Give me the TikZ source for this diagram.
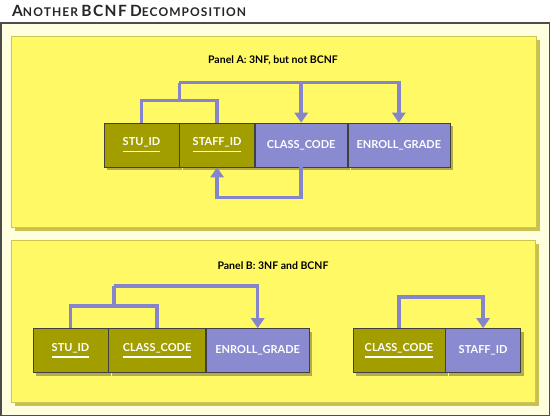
\documentclass[tikz,border=0pt]{standalone}
\usepackage{fontspec}
\setmainfont{Lato}
\usetikzlibrary{positioning,arrows.meta,shadows,calc}

\definecolor{cream}{HTML}{FFFFE0}
\definecolor{panelyellow}{HTML}{FFF966}
\definecolor{panelshade}{HTML}{C9C050}
\definecolor{keyolive}{HTML}{A39E00}
\definecolor{attrblue}{HTML}{8A8AD0}
\definecolor{fdblue}{HTML}{8585CC}

% key attribute: text with a thick underline
\newcommand{\keyul}[1]{\setbox0\hbox{#1}\vtop{\copy0\kern3pt\hrule height 1.6pt width\wd0}}
\newcommand{\tsc}[2]{{\fontsize{15.5}{15.5}\selectfont #1}{\fontsize{12}{12}\selectfont #2}}

\begin{document}
\begin{tikzpicture}[x=1pt,y=-1pt,
	attr/.style={draw=black!75, line width=0.6pt, minimum height=44pt, inner sep=0pt,
		text=white, font=\bfseries\fontsize{11}{11}\selectfont,
		drop shadow={shadow xshift=3pt, shadow yshift=-3pt, fill=black, opacity=0.3}},
	keybox/.style={attr, fill=keyolive},
	attrbox/.style={attr, fill=attrblue},
	fd/.style={draw=fdblue, line width=3.5pt},
	fdarrow/.style={fd, -{Triangle[width=13pt,length=10pt]}},
	panel/.style={fill=panelyellow, draw=panelyellow!80!black, line width=0.4pt},
	paneltitle/.style={font=\bfseries\fontsize{10.5}{10.5}\selectfont}]
	\useasboundingbox (0,0) rectangle (550,416);
	%\draw[help lines] (0,0) grid[step=50] (550,416);
	
	% frame and title
	\fill[cream, draw=black!70, line width=1.5pt] (0.75,23) rectangle (549.25,415.25);
	\node[anchor=west, inner sep=0pt, text=black!85, font=\bfseries\addfontfeature{LetterSpace=9}] (title) at (12,11)
		{\tsc{A}{NOTHER}\ \tsc{BCNF}{}\ \tsc{D}{ECOMPOSITION}};
	
	% panels
	\fill[panelshade] (15,40) rectangle (540,231);
	\draw[panel] (11,36) rectangle (536,227);
	\fill[panelshade] (15,244) rectangle (539,406);
	\draw[panel] (11,240) rectangle (535,402);
	\node[paneltitle] (titleA) at (273,60) {Panel A: 3NF, but not BCNF};
	\node[paneltitle] (titleB) at (273,266) {Panel B: 3NF and BCNF};
	
	% Panel A
	\node[keybox, minimum width=75pt] (stuA) at (141.5,145) {\keyul{STU\_ID}};
	\node[keybox, minimum width=75pt, right=0pt of stuA] (staffA) {\keyul{STAFF\_ID}};
	\node[attrbox, minimum width=92pt, right=0pt of staffA] (classA) {CLASS\_CODE};
	\node[attrbox, minimum width=102pt, right=0pt of classA] (enrollA) {ENROLL\_GRADE};
	
	\coordinate (jA) at ($(stuA.north)!0.5!(staffA.north) + (0,-22)$);
	\draw[fd] (stuA.north) |- (jA) -| (staffA.north);
	\draw[fd] (jA) -- ++(0,-18) coordinate (topA);
	\draw[fdarrow] (topA) -| (classA.north);
	\draw[fdarrow] (topA) -| (enrollA.north);
	\draw[fdarrow] (classA.south) -- ++(0,30) -| (staffA.south);
	
	% Panel B
	\node[keybox, minimum width=75pt] (stuB) at (70.5,350.5) {\keyul{STU\_ID}};
	\node[keybox, minimum width=97pt, right=0pt of stuB] (classB) {\keyul{CLASS\_CODE}};
	\node[attrbox, minimum width=103pt, right=0pt of classB] (enrollB) {ENROLL\_GRADE};
	
	\coordinate (jB) at ($(stuB.north)!0.5!(classB.north) + (0,-22)$);
	\draw[fd] (stuB.north) |- (jB) -| (classB.north);
	\draw[fd] (jB) -- ++(0,-20) coordinate (topB);
	\draw[fdarrow] (topB) -| (enrollB.north);
	
	\node[keybox, minimum width=92pt] (classC) at (399,350.5) {\keyul{CLASS\_CODE}};
	\node[attrbox, minimum width=75pt, right=0pt of classC] (staffC) {STAFF\_ID};
	\draw[fdarrow] (classC.north) -- ++(0,-31) -| (staffC.north);
\end{tikzpicture}
\end{document}
